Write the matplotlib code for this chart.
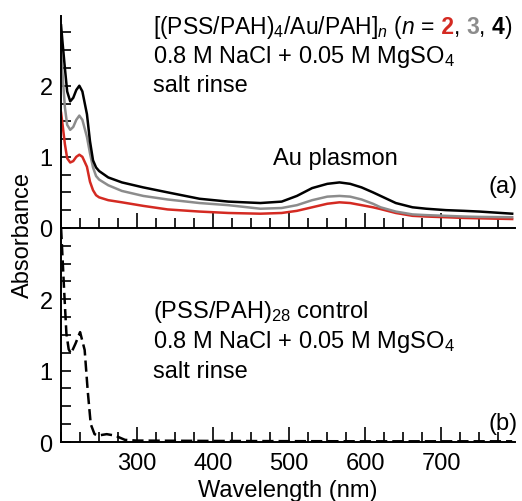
import matplotlib
matplotlib.use('Agg')
import matplotlib.pyplot as plt
from matplotlib.ticker import MultipleLocator

plt.rcParams['font.family'] = ['Liberation Sans', 'DejaVu Sans']
plt.rcParams['mathtext.fontset'] = 'custom'
plt.rcParams['mathtext.rm'] = 'Liberation Sans'
plt.rcParams['mathtext.it'] = 'Liberation Sans:italic'
plt.rcParams['mathtext.bf'] = 'Liberation Sans:bold'
plt.rcParams['font.size'] = 17

# (a) multilayers with Au, n = 2, 3, 4
wl = [200, 202, 205, 208, 212, 216, 220, 224, 228, 234, 238, 242, 246, 250, 262, 280, 308,
      340, 382, 420, 462, 490, 510, 530, 550, 566, 580, 595, 610, 620, 640, 662, 680, 706,
      730, 750, 793]
abs_n4 = [2.85, 2.6, 2.25, 1.92, 1.78, 1.83, 1.94, 2.00, 1.92, 1.60, 1.22, 0.95, 0.85, 0.80,
          0.71, 0.64, 0.57, 0.50, 0.41, 0.37, 0.35, 0.37, 0.45, 0.56, 0.62, 0.64, 0.62, 0.57,
          0.50, 0.45, 0.35, 0.29, 0.27, 0.25, 0.24, 0.23, 0.20]
abs_n3 = [2.5, 2.15, 1.7, 1.45, 1.38, 1.42, 1.52, 1.58, 1.52, 1.28, 1.05, 0.85, 0.73, 0.68,
          0.60, 0.52, 0.45, 0.40, 0.35, 0.32, 0.27, 0.28, 0.32, 0.39, 0.44, 0.45, 0.44, 0.40,
          0.34, 0.29, 0.23, 0.19, 0.18, 0.17, 0.16, 0.155, 0.15]
abs_n2 = [1.62, 1.45, 1.18, 0.98, 0.92, 0.94, 1.00, 1.03, 1.00, 0.86, 0.65, 0.53, 0.46, 0.43,
          0.39, 0.36, 0.31, 0.26, 0.23, 0.21, 0.20, 0.21, 0.24, 0.29, 0.34, 0.36, 0.35, 0.32,
          0.29, 0.265, 0.21, 0.17, 0.16, 0.15, 0.14, 0.135, 0.125]

# (b) control film
wl_ctrl = [200, 204, 207, 210, 213, 219, 225, 231, 235, 239, 244, 249, 254, 260, 271, 284,
           300, 400, 500, 600, 700, 793]
abs_ctrl = [3.0, 2.13, 1.52, 1.30, 1.24, 1.38, 1.54, 1.29, 0.72, 0.25, 0.11, 0.09, 0.10, 0.11,
            0.09, 0.03, 0.02, 0.015, 0.012, 0.01, 0.01, 0.01]

red = '#d42a22'
gray = '#8c8c8c'

fig = plt.figure(figsize=(5.22, 5.02), dpi=100)
ax1 = fig.add_axes([0.117, 0.544, 0.870, 0.422])
ax2 = fig.add_axes([0.117, 0.1175, 0.870, 0.4265])

ax1.plot(wl, abs_n2, color=red, lw=1.8)
ax1.plot(wl, abs_n3, color=gray, lw=1.8)
ax1.plot(wl, abs_n4, color='black', lw=1.8)
ax2.plot(wl_ctrl, abs_ctrl, color='black', lw=1.8, dashes=(4.5, 2))

for ax in (ax1, ax2):
    ax.set_xlim(200, 797)
    ax.spines['top'].set_visible(False)
    ax.spines['right'].set_visible(False)
    ax.spines['left'].set_linewidth(1.4)
    ax.spines['bottom'].set_linewidth(1.4)
    ax.xaxis.set_major_locator(MultipleLocator(100))
    ax.xaxis.set_minor_locator(MultipleLocator(25))
    ax.yaxis.set_major_locator(MultipleLocator(1))
    ax.yaxis.set_minor_locator(MultipleLocator(0.25))
    ax.tick_params(which='both', direction='in', width=1.2, labelsize=17)
    ax.tick_params(axis='x', which='major', length=11, pad=7.5)
    ax.tick_params(axis='x', which='minor', length=7)
    ax.tick_params(axis='y', which='both', length=7, pad=6)
    ax.set_facecolor('none')

ax1.set_ylim(0, 2.98)
ax2.set_ylim(0, 3.0)
ax1.set_yticks([0, 1, 2])
ax2.set_yticks([0, 1, 2])
ax1.tick_params(axis='x', labelbottom=False)
ax2.set_xticks([300, 400, 500, 600, 700])
ax2.set_xlabel('Wavelength (nm)', fontsize=17, labelpad=3)
fig.text(0.044, 0.532, 'Absorbance', rotation=90, ha='center', va='center', fontsize=17)

# panel (a) labels, the n values coloured like their curves
pieces = [('[(PSS/PAH)$_4$/Au/PAH]$_n$ ($n$ =', 'black', 'normal'),
          (' 2', red, 'bold'), (', ', 'black', 'normal'),
          ('3', gray, 'bold'), (', ', 'black', 'normal'),
          ('4', 'black', 'bold'), (')', 'black', 'normal')]
prev = ax1.text(0.203, 0.92, pieces[0][0], transform=ax1.transAxes, va='baseline', fontsize=16.5)
for txt, col, wt in pieces[1:]:
    prev = ax1.annotate(txt, xy=(1, 0.92), xycoords=(prev, 'axes fraction'),
                        va='baseline', ha='left', color=col, fontweight=wt, fontsize=16.5)
ax1.text(0.203, 0.783, '0.8 M NaCl + 0.05 M MgSO$_4$', transform=ax1.transAxes, va='baseline')
ax1.text(0.203, 0.645, 'salt rinse', transform=ax1.transAxes, va='baseline')
ax1.text(0.605, 0.30, 'Au plasmon', transform=ax1.transAxes, ha='center', va='baseline')
ax1.text(1.005, 0.17, '(a)', transform=ax1.transAxes, ha='right', va='baseline')

# panel (b) labels
ax2.text(0.203, 0.584, '(PSS/PAH)$_{28}$ control', transform=ax2.transAxes, va='baseline')
ax2.text(0.203, 0.444, '0.8 M NaCl + 0.05 M MgSO$_4$', transform=ax2.transAxes, va='baseline')
ax2.text(0.203, 0.304, 'salt rinse', transform=ax2.transAxes, va='baseline')
ax2.text(1.005, 0.06, '(b)', transform=ax2.transAxes, ha='right', va='baseline')

fig.savefig('out.png', dpi=100)
